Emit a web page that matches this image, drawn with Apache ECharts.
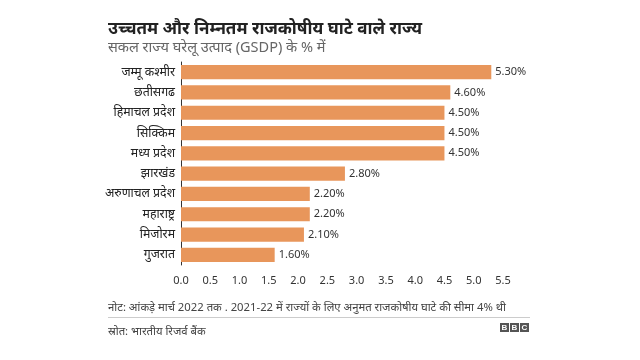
<!DOCTYPE html>
<html><head><meta charset="utf-8">
<script src="https://cdn.jsdelivr.net/npm/echarts@6/dist/echarts.min.js"></script>
<style>html,body{margin:0;padding:0;background:#fff}#c{width:640px;height:360px}</style>
</head><body><div id="c"></div>
<script>
const categories = ['जम्मू कश्मीर','छतीसगढ','हिमाचल प्रदेश','सिक्किम','मध्य प्रदेश','झारखंड','अरुणाचल प्रदेश','महाराष्ट्र','मिजोरम','गुजरात'];
const values = [5.3, 4.6, 4.5, 4.5, 4.5, 2.8, 2.2, 2.2, 2.1, 1.6];
const xTicks = [0, 0.5, 1, 1.5, 2, 2.5, 3, 3.5, 4, 4.5, 5, 5.5];

const FONT = '"Noto Sans", "Noto Sans Devanagari", "Lohit Devanagari", sans-serif';
const chart = echarts.init(document.getElementById('c'), null, {renderer: 'canvas'});
const bbc = ['B','B','C'];
const graphics = [
  {type:'text', left:108, top:21, style:{text:'उच्चतम और निम्नतम राजकोषीय घाटे वाले राज्य', fill:'#222', font:'bold 17px ' + FONT}},
  {type:'text', left:108, top:40, style:{text:'सकल राज्य घरेलू उत्पाद (GSDP) के % में', fill:'#666', font:'14.5px ' + FONT}},
  {type:'text', left:108, top:302, style:{text:'नोट: आंकड़े मार्च 2022 तक . 2021-22 में राज्यों के लिए अनुमत राजकोषीय घाटे की सीमा 4% थी', fill:'#444', font:'11.3px ' + FONT}},
  {type:'rect', shape:{x:108, y:317, width:422, height:1}, style:{fill:'#ccc'}},
  {type:'text', left:108, top:326, style:{text:'स्रोत: भारतीय रिजर्व बैंक', fill:'#444', font:'11.3px ' + FONT}}
];
bbc.forEach((ch, i) => {
  graphics.push({type:'rect', shape:{x:500 + i*10, y:323, width:9, height:9}, style:{fill:'#555'}});
  graphics.push({type:'text', x:504.5 + i*10, y:327.5, style:{text:ch, fill:'#fff', font:'bold 8px Arial', align:'center', verticalAlign:'middle'}});
});

chart.setOption({
  animation: false,
  grid: {left: 181, right: 137, top: 62, bottom: 95, containLabel: false},
  xAxis: {
    type: 'value', min: 0, max: 5.5, interval: 0.5,
    axisLine: {show: false}, axisTick: {show: false}, splitLine: {show: false},
    axisLabel: {color: '#333', fontSize: 11, fontFamily: FONT, margin: 10,
      formatter: v => v.toFixed(1)}
  },
  yAxis: {
    type: 'category', data: categories, inverse: true,
    axisLine: {show: true, lineStyle: {color: '#333', width: 1}},
    axisTick: {show: false},
    axisLabel: {color: '#222', fontSize: 12.3, fontFamily: FONT, margin: 6}
  },
  series: [{
    type: 'bar', data: values, barCategoryGap: '30%',
    itemStyle: {color: '#e8965b'},
    label: {show: true, position: 'right', distance: 4, color: '#333', fontSize: 11, fontFamily: FONT,
      formatter: p => p.value.toFixed(2) + '%'}
  }],
  graphic: graphics
});
</script></body></html>
